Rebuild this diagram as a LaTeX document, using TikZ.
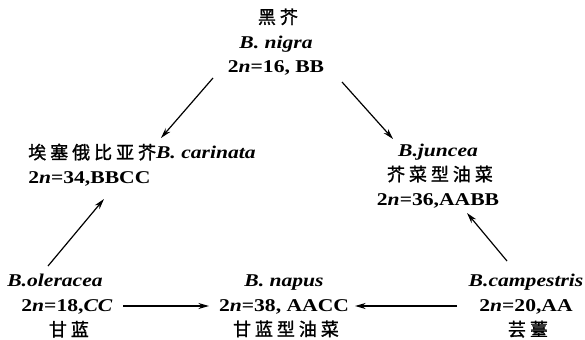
\documentclass[tikz,border=0pt]{standalone}
\usepackage{fontspec}
\setmainfont{Liberation Serif}[FakeStretch=1.2]
\newfontfamily\cjk{Noto Sans CJK SC}[LetterSpace=22,FakeBold=1.3,BoldFont={Noto Sans CJK SC}]
\usetikzlibrary{arrows.meta}
\begin{document}
\begin{tikzpicture}[x=0.75pt,y=-0.75pt,
  sp/.style={align=center,inner sep=0pt,font=\fontsize{13.5}{18.4}\selectfont\bfseries},
  arr/.style={line width=0.9pt,-{Stealth[length=8pt,width=4.5pt]}}]
\useasboundingbox (0,0) rectangle (585,339);
\node[sp] (nigra) at (276,42) {{\cjk 黑芥\kern-2.9pt}\\\textit{B. nigra}\\2\textit{n}=16, BB};
\node[sp,align=left,anchor=west] (carinata) at (28,165) {{\cjk 埃塞俄比亚芥}\textit{B. carinata}\\2\textit{n}=34,BBCC};
\node[sp] (juncea) at (438,176) {\textit{B.juncea}\\{\cjk 芥菜型油菜\kern-2.9pt}\\2\textit{n}=36,AABB};
\node[sp] (oleracea) at (67,306) {\textit{B.oleracea}\hspace*{18pt}\\2\textit{n}=18,\textit{CC}\\{\cjk 甘蓝\kern-2.9pt}};
\node[sp] (napus) at (284,306) {\textit{B. napus}\\2\textit{n}=38, AACC\\{\cjk 甘蓝型油菜\kern-2.9pt}};
\node[sp] (campestris) at (526,306) {\textit{B.campestris}\\2\textit{n}=20,AA\\{\cjk 芸薹\kern-2.9pt}};
\coordinate (n1) at (213,78);
\coordinate (n2) at (342,82);
\coordinate (c1) at (161,138);
\coordinate (c2) at (104,199);
\coordinate (j1) at (393,139);
\coordinate (j2) at (467,213);
\coordinate (o1) at (48,266);
\coordinate (o2) at (123,306);
\coordinate (p1) at (209,306);
\coordinate (p2) at (355,306);
\coordinate (k1) at (507,261);
\coordinate (k2) at (457,306);
\draw[arr] (n1) -- (c1);
\draw[arr] (n2) -- (j1);
\draw[arr] (o1) -- (c2);
\draw[arr] (k1) -- (j2);
\draw[arr] (o2) -- (p1);
\draw[arr] (k2) -- (p2);
\end{tikzpicture}
\end{document}
